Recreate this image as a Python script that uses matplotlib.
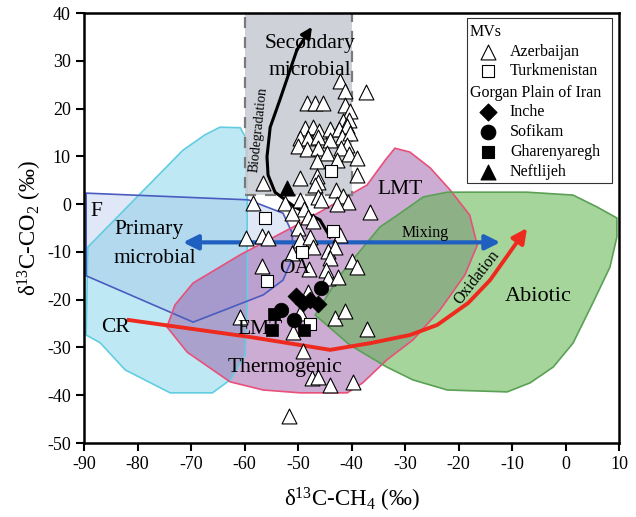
import matplotlib
matplotlib.use('Agg')
import matplotlib.pyplot as plt
from matplotlib.patches import Polygon, Rectangle

plt.rcParams['font.family'] = ['Liberation Serif', 'DejaVu Serif']
plt.rcParams['mathtext.fontset'] = 'custom'
plt.rcParams['mathtext.rm'] = 'Liberation Serif'
plt.rcParams['mathtext.it'] = 'Liberation Serif:italic'
plt.rcParams['axes.unicode_minus'] = False

# Azerbaijan mud volcanoes (open triangles)
aze_x = [-42.2, -41.2, -37.3, -48.3, -46.8, -45.3, -41.2, -40.3, -41.6, -40.5,
         -48.7, -47.2, -46.1, -44.0, -42.3, -40.8, -41.8, -40.3, -49.6, -48.1,
         -46.3, -44.0, -40.8, -50.0, -48.3, -46.3, -44.6, -42.0, -40.5, -39.0,
         -46.4, -42.7, -49.6, -46.4, -39.0, -46.3, -56.5, -46.8, -42.9, -46.3,
         -41.6, -40.7, -58.4, -52.4, -49.6, -48.9, -45.7, -42.7, -36.5, -51.1,
         -48.1, -47.2, -50.0, -42.2, -59.7, -56.7, -55.6, -49.6, -47.8, -51.1,
         -47.2, -44.4, -43.1, -44.0, -39.9, -39.0, -56.7, -47.9, -44.8, -44.4,
         -42.5, -48.1, -49.6, -43.1, -41.2, -37.1, -60.8, -50.9, -49.1, -47.4,
         -46.3, -44.0, -39.7, -51.7]
aze_y = [25.8, 23.7, 23.5, 21.2, 21.2, 21.2, 20.7, 19.5, 17.4, 17.6,
         15.9, 16.1, 15.3, 15.7, 15.7, 16.4, 14.0, 14.9, 13.8, 13.8,
         14.0, 13.4, 12.4, 12.2, 11.5, 11.7, 10.7, 11.7, 10.5, 9.7,
         9.0, 9.2, 5.5, 5.9, 6.1, 4.6, 4.4, 4.0, 3.0, 1.5,
         1.7, 0.4, 0.2, 0.2, 0.9, -1.0, 0.9, 0.0, -1.6, -1.9,
         -2.7, -3.5, -5.0, -6.5, -7.1, -6.7, -7.1, -7.5, -6.9, -10.2,
         -9.0, -9.8, -9.0, -11.3, -11.9, -13.2, -13.0, -13.6, -13.8, -15.5,
         -15.3, -18.4, -22.8, -23.8, -22.4, -26.1, -23.6, -26.8, -30.7, -36.4,
         -36.2, -37.9, -37.2, -44.3]

# Turkmenistan mud volcanoes (open squares)
tkm_x = [-43.8, -56.2, -43.5, -49.3, -55.8, -47.8]
tkm_y = [6.9, -2.9, -5.6, -10.0, -16.1, -25.1]

# Gorgan Plain of Iran
inche_x = [-50.4, -49.1, -47.8, -46.3]
inche_y = [-19.2, -20.7, -20.1, -20.9]
sofikam_x = [-45.7, -53.2, -50.7]
sofikam_y = [-17.6, -22.2, -24.3]
ghar_x = [-54.5, -54.9, -48.9]
ghar_y = [-23.0, -26.3, -26.3]
neft_x = [-52.1]
neft_y = [3.4]

# genetic fields
primary_field = [(-71.5, 11.3), (-89.3, -9), (-89.6, -27.4), (-87, -29), (-82.3, -34.7),
                 (-73.9, -39.5), (-66, -39.5), (-62.7, -36.8), (-59.9, -31.6), (-59.5, -20),
                 (-59.5, 13.4), (-60.8, 16), (-64.6, 16.1), (-67.4, 14.5)]
f_field = [(-89.6, 2.3), (-59.3, 0.9), (-52.8, -1.9), (-51.1, -6), (-50.9, -11),
           (-52.8, -15.9), (-56.5, -19), (-69.6, -24.7), (-89.6, -15)]
thermo_field = [(-31.9, 11.7), (-29.1, 10.9), (-25.3, 7.6), (-21.6, 3.0), (-17.9, -2.3),
                (-16.5, -8.6), (-18.8, -14.8), (-23.5, -22.2), (-28.5, -28.4), (-33.4, -32.6),
                (-37.9, -37.4), (-40.8, -39.5), (-49.6, -39.5), (-56.5, -38.9), (-62.7, -37.2),
                (-70.7, -31), (-74.5, -25.7), (-73, -21.1), (-69.6, -16.5), (-60.8, -10.6),
                (-49.6, -4), (-37.1, 4), (-33.7, 9.2)]
abiotic_field = [(-33.4, -34.1), (-28.5, -36.8), (-22.1, -38.9), (-10.9, -39.3), (-6.6, -37.4),
                 (-2.3, -34.1), (1.4, -29.1), (5.1, -20.7), (8.3, -13.2), (9.6, -6.9),
                 (9.6, -2.9), (5.9, -0.6), (1.4, 1.9), (-7.2, 2.5), (-16, 2.5),
                 (-22.1, 2.5), (-26.6, 1.5), (-30.9, -1.9), (-34.7, -4.8), (-42.1, -14.8),
                 (-46.8, -23.2), (-40.3, -29.5)]
secondary_box = (-60, 2, 20, 38)  # x0, y0, width, height

# process trends
bio_x = [-44, -45.9, -50.6, -54.3, -55.6, -55.8, -55.2, -53.4, -50.2, -47.4]
bio_y = [-6.9, -3.3, -0.6, 2.5, 6.1, 9.9, 16.1, 21.8, 32.3, 37.1]
oxi_x = [-82, -59, -44, -36.5, -29.1, -24, -18.2, -14.1, -7.2]
oxi_y = [-24.2, -27.8, -30.5, -29.1, -27.4, -25.3, -20.7, -15.9, -5]
mix_x = [-71.5, -12.2]
mix_y = [-8, -8]

fig = plt.figure(figsize=(6.36, 5.17), dpi=100)
ax = fig.add_axes([0.1321, 0.1431, 0.8412, 0.8317])

ax.add_patch(Polygon(primary_field, closed=True, fc='#6fcfe8', alpha=0.45, ec='none', zorder=1))
ax.add_patch(Polygon(primary_field, closed=True, fc='none', ec='#62cde0', lw=1.2, zorder=1.5))
ax.add_patch(Polygon(f_field, closed=True, fc='#9ab4e6', alpha=0.3, ec='none', zorder=1))
ax.add_patch(Polygon(f_field, closed=True, fc='none', ec='#4a5cc0', lw=1.2, zorder=1.5))
ax.add_patch(Polygon(thermo_field, closed=True, fc='#9a5aa8', alpha=0.5, ec='none', zorder=1.1))
ax.add_patch(Polygon(thermo_field, closed=True, fc='none', ec='#e8507a', lw=1.2, zorder=1.5))
ax.add_patch(Polygon(abiotic_field, closed=True, fc='#5cb44a', alpha=0.55, ec='none', zorder=1.2))
ax.add_patch(Polygon(abiotic_field, closed=True, fc='none', ec='#5aa055', lw=1.2, zorder=1.5))
x0, y0, w, h = secondary_box
ax.add_patch(Rectangle((x0, y0), w, h, fc='#c9cdd4', alpha=0.9, ec='none', zorder=1.8))
ax.add_patch(Rectangle((x0, y0), w, h, fc='none', ec='#7a7a7a', lw=1.6,
                       ls=(0, (5, 4)), zorder=1.9))

# trend arrows
ax.annotate('', xy=(mix_x[1], mix_y[1]), xytext=(mix_x[0], mix_y[0]),
            arrowprops=dict(arrowstyle='<|-|>', color='#1f5fbf', lw=3,
                            mutation_scale=22, shrinkA=0, shrinkB=0), zorder=3)
ax.plot(oxi_x[:-1], oxi_y[:-1], color='#ee2a1e', lw=2.8, zorder=3, solid_capstyle='butt')
ax.annotate('', xy=(oxi_x[-1], oxi_y[-1]), xytext=(oxi_x[-2], oxi_y[-2]),
            arrowprops=dict(arrowstyle='-|>', color='#ee2a1e', lw=2.8,
                            mutation_scale=22, shrinkA=0, shrinkB=0), zorder=3)
ax.plot(bio_x[:-1], bio_y[:-1], color='black', lw=2.2, zorder=3)
ax.annotate('', xy=(bio_x[-1], bio_y[-1]), xytext=(bio_x[-2], bio_y[-2]),
            arrowprops=dict(arrowstyle='-|>', color='black', lw=2.2,
                            mutation_scale=16, shrinkA=0, shrinkB=0), zorder=3)

# samples
ax.scatter(aze_x, aze_y, marker='^', s=115, fc='white', ec='black', lw=0.8, zorder=4)
ax.scatter(tkm_x, tkm_y, marker='s', s=80, fc='white', ec='black', lw=0.8, zorder=4)
ax.scatter(neft_x, neft_y, marker='^', s=115, fc='black', ec='black', lw=0.8, zorder=4)
ax.scatter(inche_x, inche_y, marker='D', s=75, fc='black', ec='black', lw=0.5, zorder=4)
ax.scatter(sofikam_x, sofikam_y, marker='o', s=110, fc='black', ec='black', lw=0.5, zorder=4)
ax.scatter(ghar_x, ghar_y, marker='s', s=80, fc='black', ec='black', lw=0.5, zorder=4)

# field and trend labels
big = 15.5
ax.text(-47.8, 33.6, 'Secondary', fontsize=big, ha='center', va='center', zorder=5)
ax.text(-47.8, 28.0, 'microbial', fontsize=big, ha='center', va='center', zorder=5)
ax.text(-84.4, -5.4, 'Primary', fontsize=big, ha='left', va='center', zorder=5)
ax.text(-84.4, -11.3, 'microbial', fontsize=big, ha='left', va='center', zorder=5)
ax.text(-87.6, -1.6, 'F', fontsize=big, ha='center', va='center', zorder=5)
ax.text(-84.2, -25.9, 'CR', fontsize=big, ha='center', va='center', zorder=5)
ax.text(-31.0, 3.0, 'LMT', fontsize=big, ha='center', va='center', zorder=5)
ax.text(-50.6, -13.4, 'OA', fontsize=big, ha='center', va='center', zorder=5)
ax.text(-57.1, -26.3, 'EMT', fontsize=big, ha='center', va='center', zorder=5)
ax.text(-52.4, -34.1, 'Thermogenic', fontsize=big, ha='center', va='center', zorder=5)
ax.text(-5.1, -19.4, 'Abiotic', fontsize=16, ha='center', va='center', zorder=5)
ax.text(-26.3, -6.0, 'Mixing', fontsize=11.5, ha='center', va='center', zorder=5)
ax.text(-16.5, -15.3, 'Oxidation', fontsize=11.5, ha='center', va='center',
        rotation=52, zorder=5)
ax.text(-57.3, 15.5, 'Biodegradation', fontsize=10, ha='center', va='center',
        rotation=84, zorder=5)

# legend box drawn by hand (headers are flush left, entries indented)
ax.add_patch(Rectangle((0.716, 0.605), 0.271, 0.383, transform=ax.transAxes,
                       fc='white', ec='#333333', lw=0.8, zorder=6))
rows = [0.956, 0.909, 0.865, 0.814, 0.770, 0.723, 0.677, 0.630]
leg = [(None, 'MVs', None), ('^', 'Azerbaijan', 'white'), ('s', 'Turkmenistan', 'white'),
       (None, 'Gorgan Plain of Iran', None), ('D', 'Inche', 'black'),
       ('o', 'Sofikam', 'black'), ('s', 'Gharenyaregh', 'black'), ('^', 'Neftlijeh', 'black')]
sizes = {'^': 115, 's': 80, 'D': 75, 'o': 110}
for ry, (mk, label, fc) in zip(rows, leg):
    if mk is None:
        ax.text(0.721, ry, label, transform=ax.transAxes, fontsize=11.5,
                ha='left', va='center', zorder=7)
    else:
        ax.scatter([0.755], [ry], transform=ax.transAxes, marker=mk, s=sizes[mk],
                   fc=fc, ec='black', lw=0.8, zorder=7, clip_on=False)
        ax.text(0.796, ry, label, transform=ax.transAxes, fontsize=11.5,
                ha='left', va='center', zorder=7)

ax.set_xlim(-90, 10)
ax.set_ylim(-50, 40)
ax.set_xticks(range(-90, 11, 10))
ax.set_yticks(range(-50, 41, 10))
ax.tick_params(direction='out', length=6, width=1.5, labelsize=13, top=False, right=False)
for sp in ax.spines.values():
    sp.set_linewidth(1.8)
ax.set_xlabel('δ$^{13}$C-CH$_4$ (‰)', fontsize=16.5, labelpad=9)
ax.set_ylabel('δ$^{13}$C-CO$_2$ (‰)', fontsize=16.5, labelpad=2)

plt.savefig('out.png', dpi=100)
